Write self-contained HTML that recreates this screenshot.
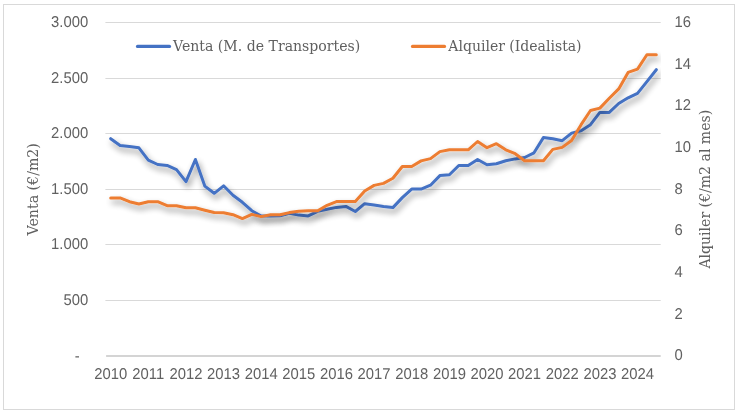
<!DOCTYPE html>
<html lang="es"><head><meta charset="utf-8"><title>Venta y Alquiler</title>
<style>
html,body{margin:0;padding:0;background:#fff;}
body{width:738px;height:412px;overflow:hidden;}
svg{display:block;}
.tick text{font-family:"Liberation Sans","DejaVu Sans",sans-serif;font-size:15.6px;fill:#616161;text-rendering:geometricPrecision;}
.ttl{font-family:"DejaVu Serif","Liberation Serif",serif;font-size:14.3px;fill:#606060;}
</style></head><body>
<svg width="738" height="412" viewBox="0 0 738 412">
<defs><filter id="sh" x="-5%" y="-15%" width="110%" height="140%"><feGaussianBlur in="SourceAlpha" stdDeviation="3.1"/><feOffset dx="1.8" dy="3.6"/><feComponentTransfer><feFuncA type="linear" slope="0.45"/></feComponentTransfer><feMerge><feMergeNode/><feMergeNode in="SourceGraphic"/></feMerge></filter><clipPath id="pc"><rect x="104" y="8" width="557" height="349"/></clipPath></defs>
<rect x="0" y="0" width="738" height="412" fill="#fff"/>
<rect x="3.5" y="4.5" width="731" height="405" fill="#fff" stroke="#d9d9d9" stroke-width="1"/>
<g fill="#d9d9d9"><rect x="105.4" y="22" width="555.3" height="1"/><rect x="105.4" y="78" width="555.3" height="1"/><rect x="105.4" y="133" width="555.3" height="1"/><rect x="105.4" y="189" width="555.3" height="1"/><rect x="105.4" y="244" width="555.3" height="1"/><rect x="105.4" y="300" width="555.3" height="1"/></g>
<rect x="106.1" y="355" width="554.6" height="2" fill="#d4d4d4"/>
<g class="tick"><text transform="translate(88.2 27.1) scale(0.95 1)" text-anchor="end">3.000</text><text transform="translate(88.2 82.6) scale(0.95 1)" text-anchor="end">2.500</text><text transform="translate(88.2 138.1) scale(0.95 1)" text-anchor="end">2.000</text><text transform="translate(88.2 193.6) scale(0.95 1)" text-anchor="end">1.500</text><text transform="translate(88.2 249.1) scale(0.95 1)" text-anchor="end">1.000</text><text transform="translate(88.2 304.6) scale(0.95 1)" text-anchor="end">500</text><text transform="translate(79.6 360.6) scale(0.95 1)" text-anchor="end">-</text><text transform="translate(674.4 360.1) scale(0.95 1)">0</text><text transform="translate(674.4 318.5) scale(0.95 1)">2</text><text transform="translate(674.4 276.9) scale(0.95 1)">4</text><text transform="translate(674.4 235.2) scale(0.95 1)">6</text><text transform="translate(674.4 193.6) scale(0.95 1)">8</text><text transform="translate(674.4 152.0) scale(0.95 1)">10</text><text transform="translate(674.4 110.3) scale(0.95 1)">12</text><text transform="translate(674.4 68.7) scale(0.95 1)">14</text><text transform="translate(674.4 27.1) scale(0.95 1)">16</text><text transform="translate(110.7 378.7) scale(0.95 1)" text-anchor="middle">2010</text><text transform="translate(148.3 378.7) scale(0.95 1)" text-anchor="middle">2011</text><text transform="translate(186.0 378.7) scale(0.95 1)" text-anchor="middle">2012</text><text transform="translate(223.6 378.7) scale(0.95 1)" text-anchor="middle">2013</text><text transform="translate(261.2 378.7) scale(0.95 1)" text-anchor="middle">2014</text><text transform="translate(298.8 378.7) scale(0.95 1)" text-anchor="middle">2015</text><text transform="translate(336.5 378.7) scale(0.95 1)" text-anchor="middle">2016</text><text transform="translate(374.1 378.7) scale(0.95 1)" text-anchor="middle">2017</text><text transform="translate(411.7 378.7) scale(0.95 1)" text-anchor="middle">2018</text><text transform="translate(449.4 378.7) scale(0.95 1)" text-anchor="middle">2019</text><text transform="translate(487.0 378.7) scale(0.95 1)" text-anchor="middle">2020</text><text transform="translate(524.6 378.7) scale(0.95 1)" text-anchor="middle">2021</text><text transform="translate(562.2 378.7) scale(0.95 1)" text-anchor="middle">2022</text><text transform="translate(599.9 378.7) scale(0.95 1)" text-anchor="middle">2023</text><text transform="translate(637.5 378.7) scale(0.95 1)" text-anchor="middle">2024</text></g>
<g fill="none" stroke-width="3" stroke-linejoin="round" stroke-linecap="round" clip-path="url(#pc)">
<polyline filter="url(#sh)" stroke="#4472c4" points="110.7,138.7 120.1,145.5 129.5,146.6 138.9,147.8 148.3,160.1 157.7,164.5 167.1,165.4 176.5,169.6 186.0,181.6 195.4,159.5 204.8,186.1 214.2,193.3 223.6,185.8 233.0,195.2 242.4,202.3 251.8,210.7 261.2,216.0 270.6,216.0 280.0,215.8 289.4,213.2 298.8,215.1 308.2,215.9 317.7,211.4 327.1,209.2 336.5,207.4 345.9,206.4 355.3,211.5 364.7,203.7 374.1,204.9 383.5,206.4 392.9,207.6 402.3,197.6 411.7,189.1 421.1,189.1 430.5,185.2 439.9,175.6 449.4,174.8 458.8,165.5 468.2,165.6 477.6,159.5 487.0,164.7 496.4,163.8 505.8,160.8 515.2,158.9 524.6,157.5 534.0,152.8 543.4,137.6 552.8,138.8 562.2,140.7 571.6,133.1 581.1,130.8 590.5,124.7 599.9,112.4 609.3,112.4 618.7,103.5 628.1,97.8 637.5,93.4 646.9,81.6 656.3,69.7"/>
<polyline filter="url(#sh)" stroke="#ed7d31" points="110.7,197.9 120.1,197.9 129.5,201.7 138.9,204.0 148.3,201.7 157.7,201.7 167.1,205.7 176.5,205.7 186.0,207.8 195.4,207.8 204.8,210.2 214.2,212.5 223.6,212.7 233.0,214.7 242.4,218.6 251.8,214.4 261.2,216.6 270.6,214.7 280.0,214.7 289.4,212.6 298.8,211.3 308.2,210.7 317.7,210.8 327.1,205.3 336.5,201.6 345.9,201.6 355.3,201.6 364.7,191.0 374.1,185.4 383.5,183.4 392.9,178.3 402.3,166.5 411.7,166.5 421.1,160.9 430.5,158.6 439.9,151.6 449.4,149.8 458.8,149.8 468.2,149.8 477.6,141.5 487.0,147.7 496.4,143.7 505.8,149.8 515.2,153.7 524.6,160.8 534.0,160.8 543.4,160.8 552.8,149.4 562.2,147.4 571.6,140.5 581.1,124.7 590.5,110.5 599.9,108.1 609.3,98.2 618.7,88.9 628.1,72.4 637.5,69.1 646.9,54.8 656.3,54.8"/>
</g>
<g fill="none" stroke-width="3.2" stroke-linecap="round">
<line x1="137.5" x2="169.5" y1="46.4" y2="46.4" stroke="#4472c4"/>
<line x1="412.5" x2="444.5" y1="46.4" y2="46.4" stroke="#ed7d31"/>
</g>
<g class="ttl">
<text x="173" y="51" textLength="187.3" lengthAdjust="spacingAndGlyphs">Venta (M. de Transportes)</text>
<text x="448.3" y="51" textLength="133.3" lengthAdjust="spacingAndGlyphs">Alquiler (Idealista)</text>
<text transform="translate(38.3 235.5) rotate(-90)" textLength="92.4" lengthAdjust="spacingAndGlyphs">Venta (€/m2)</text>
<text transform="translate(709.9 268.6) rotate(-90)" textLength="158.8" lengthAdjust="spacingAndGlyphs">Alquiler (€/m2 al mes)</text>
</g>
</svg>
</body></html>
